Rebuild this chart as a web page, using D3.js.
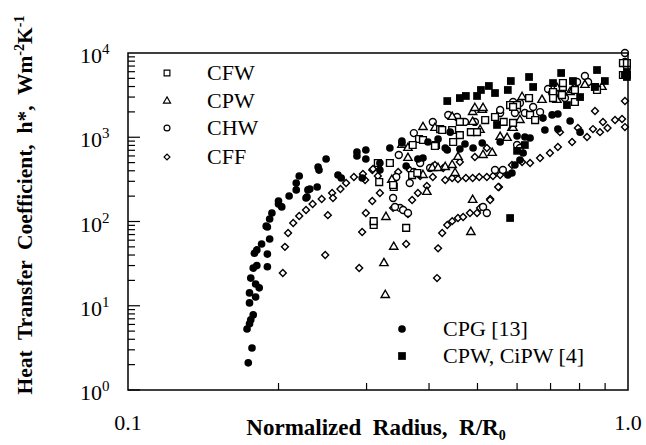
<!DOCTYPE html>
<html>
<head>
<meta charset="utf-8">
<script src="https://cdn.jsdelivr.net/npm/d3@7"></script>
<style>
  body { margin: 0; background: #fff; }
  text { font-family: "Liberation Serif", "Times New Roman", serif; fill: #000; }
</style>
</head>
<body>
<div id="chart"></div>
<script>
// Data: [R/R0, h*]
const cfw = [
  [0.318, 294], [0.334, 495], [0.316, 495], [0.340, 257], [0.339, 271], [0.310, 91], [0.310, 101],
  [0.360, 84], [0.382, 953], [0.371, 809], [0.389, 927], [0.413, 809], [0.421, 1250], [0.425, 1220],
  [0.445, 1220], [0.461, 1060], [0.461, 1520], [0.485, 1150], [0.499, 1150], [0.411, 787], [0.447, 878],
  [0.542, 1740], [0.564, 1520], [0.518, 1600], [0.581, 2410], [0.600, 2410], [0.589, 2290], [0.370, 356],
  [0.379, 376], [0.634, 2920], [0.637, 1840], [0.652, 1600], [0.589, 1480], [0.708, 3440], [0.708, 2920],
  [0.741, 3950], [0.741, 4400], [0.783, 2620], [0.783, 3640], [0.738, 3170], [0.859, 3950], [0.867, 3640],
  [0.977, 7600], [0.977, 5480], [0.995, 7600], [0.995, 5480]
];
const cpw = [
  [0.328, 113], [0.340, 50], [0.325, 32], [0.327, 13.4], [0.489, 180], [0.485, 75], [0.389, 1320],
  [0.411, 1290], [0.445, 1740], [0.489, 1990], [0.511, 2110], [0.494, 2220], [0.513, 2220], [0.489, 1520],
  [0.506, 1220], [0.586, 1290], [0.406, 431], [0.417, 431], [0.431, 443], [0.445, 468], [0.451, 376],
  [0.457, 583], [0.513, 615], [0.535, 650], [0.555, 1007], [0.573, 980], [0.396, 224], [0.389, 356],
  [0.353, 809], [0.363, 745], [0.363, 567], [0.337, 311], [0.614, 3000], [0.673, 2770], [0.721, 3840],
  [0.766, 3440], [0.721, 2770], [0.820, 4170], [0.887, 3950], [0.589, 1290], [0.608, 1600], [0.776, 3640]
];
const chw = [
  [0.339, 190], [0.350, 145], [0.342, 149], [0.355, 137], [0.363, 126], [0.366, 286], [0.344, 337],
  [0.348, 615], [0.373, 1120], [0.384, 495], [0.402, 431], [0.373, 387], [0.407, 1520], [0.437, 1840],
  [0.455, 1740], [0.472, 1520], [0.494, 1520], [0.555, 1940], [0.555, 2110], [0.542, 408], [0.562, 408],
  [0.600, 809], [0.513, 149], [0.522, 126], [0.589, 2620], [0.608, 2550], [0.622, 1940], [0.600, 2110],
  [0.646, 2290], [0.667, 1990], [0.692, 3740], [0.705, 3350], [0.714, 3350], [0.748, 2920], [0.783, 4400],
  [0.791, 4530], [0.820, 5330], [0.832, 4530], [0.986, 10000], [0.986, 7820], [0.995, 6820], [0.608, 745],
  [0.594, 1940]
];
const cff = [
  [0.204, 24.5], [0.206, 50], [0.209, 73], [0.214, 96], [0.220, 116], [0.227, 137], [0.234, 161],
  [0.244, 185], [0.256, 218], [0.257, 190], [0.266, 243], [0.273, 286], [0.283, 337], [0.295, 366],
  [0.308, 408], [0.316, 347], [0.319, 218], [0.308, 175], [0.299, 126], [0.294, 75], [0.290, 28],
  [0.248, 40], [0.251, 119], [0.298, 311], [0.309, 420], [0.339, 145], [0.370, 180], [0.380, 218],
  [0.396, 264], [0.407, 337], [0.431, 311], [0.445, 328], [0.457, 319], [0.474, 328], [0.489, 328],
  [0.504, 337], [0.522, 337], [0.537, 347], [0.555, 356], [0.552, 257], [0.530, 185], [0.506, 145],
  [0.586, 468], [0.614, 508], [0.637, 495], [0.667, 567], [0.698, 650], [0.724, 766], [0.773, 878],
  [0.731, 1150], [0.794, 1290], [0.828, 1007], [0.851, 1250], [0.879, 1150], [0.891, 1520], [0.910, 1290],
  [0.942, 1600], [0.973, 1650], [0.986, 1320], [0.986, 2690], [0.859, 2050], [0.427, 431], [0.411, 468],
  [0.494, 583], [0.461, 508], [0.522, 745], [0.363, 123], [0.360, 54], [0.415, 21.3], [0.417, 48],
  [0.425, 73], [0.435, 91], [0.445, 101], [0.457, 110], [0.468, 113], [0.483, 126], [0.499, 126],
  [0.530, 180], [0.550, 257], [0.347, 387], [0.366, 408], [0.384, 347]
];
const cpg = [
  [0.174, 2.1], [0.177, 3.15], [0.173, 5.3], [0.175, 6.1], [0.176, 6.8], [0.178, 7.8], [0.175, 10.8],
  [0.180, 12.7], [0.175, 14.2], [0.183, 16.3], [0.180, 18.1], [0.176, 21.3], [0.178, 28], [0.181, 30],
  [0.190, 29], [0.179, 42], [0.181, 46], [0.190, 41], [0.185, 54], [0.192, 62], [0.189, 88], [0.190, 86],
  [0.192, 107], [0.194, 126], [0.203, 149], [0.200, 161], [0.200, 175], [0.210, 201], [0.228, 195],
  [0.227, 190], [0.229, 237], [0.217, 237], [0.217, 286], [0.220, 347], [0.231, 243], [0.239, 257],
  [0.240, 443], [0.241, 408], [0.249, 552], [0.263, 356], [0.267, 328], [0.287, 668], [0.287, 599],
  [0.299, 706], [0.299, 552], [0.294, 328], [0.319, 495], [0.319, 408], [0.334, 745], [0.353, 902],
  [0.353, 855], [0.360, 456], [0.380, 552], [0.389, 567], [0.398, 878], [0.417, 953], [0.435, 706],
  [0.441, 1150], [0.431, 745], [0.461, 725], [0.472, 831], [0.490, 745], [0.511, 855], [0.555, 878],
  [0.575, 356], [0.586, 376], [0.594, 468], [0.608, 537], [0.617, 650], [0.600, 1035], [0.622, 1007],
  [0.637, 980], [0.676, 1690], [0.682, 1220], [0.705, 1840], [0.724, 1890], [0.766, 1560], [0.724, 1250],
  [0.802, 1150]
];
const cpwRef4 = [
  [0.435, 2690], [0.461, 2920], [0.474, 3090], [0.499, 3090], [0.508, 3640], [0.527, 4060], [0.542, 3350],
  [0.575, 3640], [0.583, 4650], [0.634, 5190], [0.646, 3950], [0.708, 4400], [0.735, 5790], [0.776, 4650],
  [0.867, 6280], [0.899, 4650], [0.859, 3950], [0.995, 5950], [0.995, 5190], [0.986, 5480], [0.755, 2410],
  [0.802, 3000], [0.547, 1400], [0.600, 690], [0.622, 809], [0.581, 110]
];

const yExponents = [0, 1, 2, 3, 4];
const xMinorTicks = [0.2, 0.3, 0.4, 0.5, 0.6, 0.7, 0.8, 0.9];

const width = 646;
const height = 445;

const svg = d3.select("#chart")
  .append("svg")
  .attr("width", width)
  .attr("height", height);

const x = d3.scaleLog().domain([0.1, 1]).range([128, 628]);
const y = d3.scaleLog().domain([1, 1e4]).range([390, 53]);

// Marker shapes
const shapes = {
  square: d3.symbol().type(d3.symbolSquare).size(46)(),
  triangle: d3.symbol().type(d3.symbolTriangle).size(30)(),
  circle: d3.symbol().type(d3.symbolCircle).size(38)(),
  diamond: d3.symbol().type(d3.symbolSquare).size(24)(),
  dot: d3.symbol().type(d3.symbolCircle).size(46)(),
  block: d3.symbol().type(d3.symbolSquare).size(60)()
};

const series = [
  { name: "CFF", data: cff, shape: "diamond", filled: false, rot: 45 },
  { name: "CHW", data: chw, shape: "circle", filled: false, rot: 0 },
  { name: "CPW", data: cpw, shape: "triangle", filled: false, rot: 0 },
  { name: "CFW", data: cfw, shape: "square", filled: false, rot: 0 },
  { name: "CPG [13]", data: cpg, shape: "dot", filled: true, rot: 0 },
  { name: "CPW, CiPW [4]", data: cpwRef4, shape: "block", filled: true, rot: 0 }
];

series.forEach(s => {
  svg.append("g")
    .selectAll("path")
    .data(s.data)
    .join("path")
    .attr("d", shapes[s.shape])
    .attr("transform", d => `translate(${x(d[0])},${y(d[1])}) rotate(${s.rot})`)
    .attr("fill", s.filled ? "#000" : "#fff")
    .attr("stroke", "#000")
    .attr("stroke-width", s.filled ? 0 : 1.4);
});

// Frame
svg.append("rect")
  .attr("x", x(0.1))
  .attr("y", y(1e4))
  .attr("width", x(1) - x(0.1))
  .attr("height", y(1) - y(1e4))
  .attr("fill", "none")
  .attr("stroke", "#000")
  .attr("stroke-width", 1.5);

// Y ticks (inside, on the left edge)
const yTickG = svg.append("g").attr("stroke", "#000").attr("stroke-width", 1.2);
yExponents.slice(0, -1).forEach(e => {
  for (let k = 1; k <= 9; k++) {
    const v = k * Math.pow(10, e);
    const len = k === 1 ? 12 : 7;
    yTickG.append("line")
      .attr("x1", x(0.1)).attr("x2", x(0.1) + len)
      .attr("y1", y(v)).attr("y2", y(v));
  }
});

// X minor ticks (inside, on the bottom edge)
xMinorTicks.forEach(v => {
  svg.append("line")
    .attr("x1", x(v)).attr("x2", x(v))
    .attr("y1", y(1)).attr("y2", y(1) - 7)
    .attr("stroke", "#000")
    .attr("stroke-width", 1.2);
});

// Y tick labels
yExponents.forEach(e => {
  const t = svg.append("text")
    .attr("x", 80)
    .attr("y", y(Math.pow(10, e)) + 10)
    .attr("font-size", 22);
  t.append("tspan").text("10");
  t.append("tspan").attr("dy", -9).attr("font-size", 15).text(e);
});

// X tick labels
[0.1, 1].forEach(v => {
  svg.append("text")
    .attr("x", x(v))
    .attr("y", 430)
    .attr("text-anchor", "middle")
    .attr("font-size", 22)
    .text(v === 1 ? "1.0" : "0.1");
});

// Axis titles
const xt = svg.append("text")
  .attr("x", 376)
  .attr("y", 435)
  .attr("text-anchor", "middle")
  .attr("font-size", 23)
  .attr("font-weight", "bold")
  .style("white-space", "pre");
xt.append("tspan").text("Normalized  Radius,  R/R");
xt.append("tspan").attr("dy", 5).attr("font-size", 14).text("0");

const yt = svg.append("text")
  .attr("transform", "translate(32,205) rotate(-90)")
  .attr("text-anchor", "middle")
  .attr("font-size", 21.5)
  .attr("font-weight", "bold")
  .style("white-space", "pre");
yt.append("tspan").text("Heat  Transfer  Coefficient,  h*,  Wm");
yt.append("tspan").attr("dy", -8).attr("font-size", 14).text("-2");
yt.append("tspan").attr("dy", 8).text("K");
yt.append("tspan").attr("dy", -8).attr("font-size", 14).text("-1");

// Legends
const legendTop = [
  { s: series[3], y: 73 },
  { s: series[2], y: 101 },
  { s: series[1], y: 128 },
  { s: series[0], y: 157 }
];
legendTop.forEach(l => {
  svg.append("path")
    .attr("d", shapes[l.s.shape])
    .attr("transform", `translate(167,${l.y}) rotate(${l.s.rot}) scale(0.85)`)
    .attr("fill", "#fff")
    .attr("stroke", "#000")
    .attr("stroke-width", 1.4);
  svg.append("text")
    .attr("x", 207)
    .attr("y", l.y + 7)
    .attr("font-size", 22)
    .text(l.s.name);
});

const legendBottom = [
  { s: series[4], y: 329 },
  { s: series[5], y: 356 }
];
legendBottom.forEach(l => {
  svg.append("path")
    .attr("d", shapes[l.s.shape])
    .attr("transform", `translate(402,${l.y})`)
    .attr("fill", "#000");
  svg.append("text")
    .attr("x", 443)
    .attr("y", l.y + 7)
    .attr("font-size", 22)
    .text(l.s.name);
});
</script>
</body>
</html>
